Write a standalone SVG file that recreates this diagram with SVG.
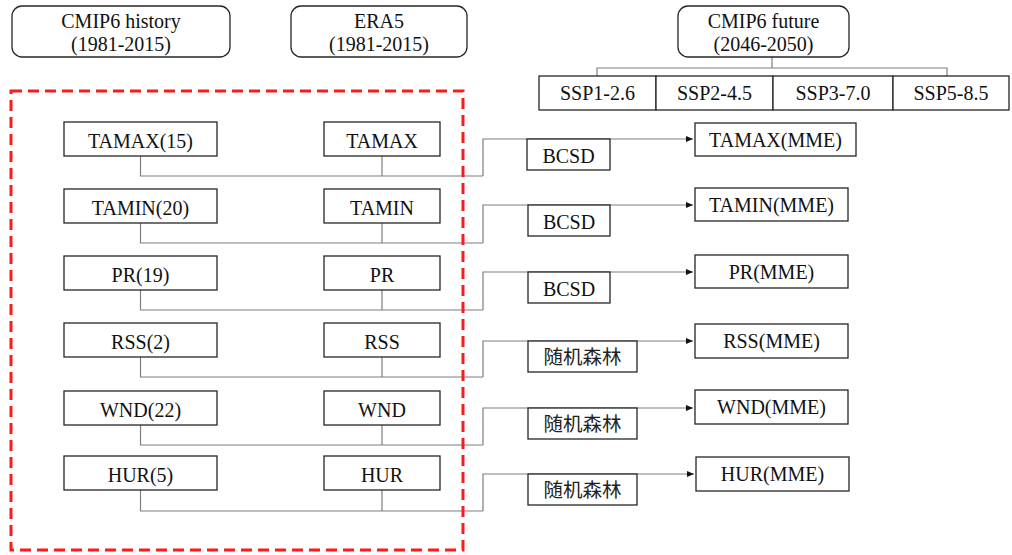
<svg xmlns="http://www.w3.org/2000/svg" width="1012" height="555" viewBox="0 0 1012 555">
<style>
  .box { fill: #fff; stroke: #262626; stroke-width: 1.3; }
  .t { font-family: 'Liberation Serif', 'Times New Roman', Tinos, 'DejaVu Serif', serif; font-size: 20px; fill: #111; text-anchor: middle; }
  .cjk { font-family: 'Noto Sans CJK SC', 'Noto Sans CJK TC', sans-serif; font-size: 19.5px; fill: #222; text-anchor: middle; }
  .conn { fill: none; stroke: #7f7f7f; stroke-width: 1.2; }
  .arr { fill: none; stroke: #7f7f7f; stroke-width: 1.2; marker-end: url(#ah); }
  .dash { fill: none; stroke: #ff1a1a; stroke-width: 3; stroke-dasharray: 11 6; }
</style>
<defs>
  <marker id="ah" markerWidth="8" markerHeight="8" refX="7" refY="4" orient="auto" markerUnits="userSpaceOnUse">
    <path d="M0,1 L7,4 L0,7 Z" fill="#111"/>
  </marker>
</defs>
<rect width="1012" height="555" fill="#fff"/>

<g id="connectors">
  <path class="conn" d="M772,57 V68 M597,76 V68 H947 V76"/>
  <path class="conn" d="M140.5,156 V176 H483 M382,156 V176"/>
  <path class="arr" d="M483,176 V139 H693"/>
  <path class="conn" d="M140.5,223 V243 H483 M382,223 V243"/>
  <path class="arr" d="M483,243 V205 H693"/>
  <path class="conn" d="M140.5,290 V310 H483 M382,290 V310"/>
  <path class="arr" d="M483,310 V272 H693"/>
  <path class="conn" d="M140.5,357 V377 H483 M382,357 V377"/>
  <path class="arr" d="M483,377 V341 H693"/>
  <path class="conn" d="M140.5,425 V445 H483 M382,425 V445"/>
  <path class="arr" d="M483,445 V408 H693"/>
  <path class="conn" d="M140.5,490 V511 H483 M382,490 V511"/>
  <path class="arr" d="M483,511 V474 H694"/>
</g>

<g id="cmip6-history">
  <rect class="box" x="12" y="6" width="218" height="51" rx="10"/>
  <text class="t" x="121" y="28">CMIP6 history</text>
  <text class="t" x="121" y="51">(1981-2015)</text>
</g>
<g id="era5">
  <rect class="box" x="291" y="6" width="176" height="51" rx="10"/>
  <text class="t" x="379" y="28">ERA5</text>
  <text class="t" x="379" y="51">(1981-2015)</text>
</g>
<g id="cmip6-future">
  <rect class="box" x="678" y="6" width="171" height="51" rx="10"/>
  <text class="t" x="763.5" y="28">CMIP6 future</text>
  <text class="t" x="763.5" y="51">(2046-2050)</text>
</g>
<g id="ssp">
  <rect class="box" x="539" y="76" width="117" height="34"/>
  <text class="t" x="597.5" y="100">SSP1-2.6</text>
  <rect class="box" x="656" y="76" width="117" height="34"/>
  <text class="t" x="714.5" y="100">SSP2-4.5</text>
  <rect class="box" x="773" y="76" width="120" height="34"/>
  <text class="t" x="833" y="100">SSP3-7.0</text>
  <rect class="box" x="893" y="76" width="116" height="34"/>
  <text class="t" x="951" y="100">SSP5-8.5</text>
</g>

<g id="historical-group">
  <rect class="dash" x="11" y="91" width="452" height="459"/>
</g>

<g id="tamax-hist"><rect class="box" x="64" y="122" width="153" height="34"/><text class="t" x="140.5" y="148">TAMAX(15)</text></g>
<g id="tamax-era"><rect class="box" x="324" y="122" width="116" height="34"/><text class="t" x="382" y="148">TAMAX</text></g>
<g id="tamin-hist"><rect class="box" x="64" y="189" width="153" height="34"/><text class="t" x="140.5" y="215">TAMIN(20)</text></g>
<g id="tamin-era"><rect class="box" x="324" y="189" width="116" height="34"/><text class="t" x="382" y="215">TAMIN</text></g>
<g id="pr-hist"><rect class="box" x="64" y="256" width="153" height="34"/><text class="t" x="140.5" y="282">PR(19)</text></g>
<g id="pr-era"><rect class="box" x="324" y="256" width="116" height="34"/><text class="t" x="382" y="282">PR</text></g>
<g id="rss-hist"><rect class="box" x="64" y="323" width="153" height="34"/><text class="t" x="140.5" y="349">RSS(2)</text></g>
<g id="rss-era"><rect class="box" x="324" y="323" width="116" height="34"/><text class="t" x="382" y="349">RSS</text></g>
<g id="wnd-hist"><rect class="box" x="64" y="391" width="153" height="34"/><text class="t" x="140.5" y="417">WND(22)</text></g>
<g id="wnd-era"><rect class="box" x="324" y="391" width="116" height="34"/><text class="t" x="382" y="417">WND</text></g>
<g id="hur-hist"><rect class="box" x="64" y="456" width="153" height="34"/><text class="t" x="140.5" y="482">HUR(5)</text></g>
<g id="hur-era"><rect class="box" x="324" y="456" width="116" height="34"/><text class="t" x="382" y="482">HUR</text></g>

<g id="bcsd-1"><rect class="box" x="527" y="139" width="83" height="31"/><text class="t" x="568.5" y="163">BCSD</text></g>
<g id="bcsd-2"><rect class="box" x="528" y="205" width="82" height="31"/><text class="t" x="569" y="229">BCSD</text></g>
<g id="bcsd-3"><rect class="box" x="528" y="272" width="82" height="31"/><text class="t" x="569" y="296">BCSD</text></g>
<g id="rf-1"><rect class="box" x="528" y="341" width="109" height="31"/><text class="cjk" x="582.5" y="364">随机森林</text></g>
<g id="rf-2"><rect class="box" x="528" y="408" width="109" height="31"/><text class="cjk" x="582.5" y="431">随机森林</text></g>
<g id="rf-3"><rect class="box" x="528" y="474" width="109" height="31"/><text class="cjk" x="582.5" y="497">随机森林</text></g>

<g id="tamax-mme"><rect class="box" x="695" y="123" width="161" height="33"/><text class="t" x="775.5" y="147">TAMAX(MME)</text></g>
<g id="tamin-mme"><rect class="box" x="695" y="188" width="153" height="33"/><text class="t" x="771.5" y="212">TAMIN(MME)</text></g>
<g id="pr-mme"><rect class="box" x="695" y="255" width="153" height="33"/><text class="t" x="771.5" y="279">PR(MME)</text></g>
<g id="rss-mme"><rect class="box" x="695" y="324" width="153" height="34"/><text class="t" x="771.5" y="348">RSS(MME)</text></g>
<g id="wnd-mme"><rect class="box" x="695" y="390" width="153" height="34"/><text class="t" x="771.5" y="414">WND(MME)</text></g>
<g id="hur-mme"><rect class="box" x="696" y="457" width="153" height="34"/><text class="t" x="772.5" y="481">HUR(MME)</text></g>
</svg>
